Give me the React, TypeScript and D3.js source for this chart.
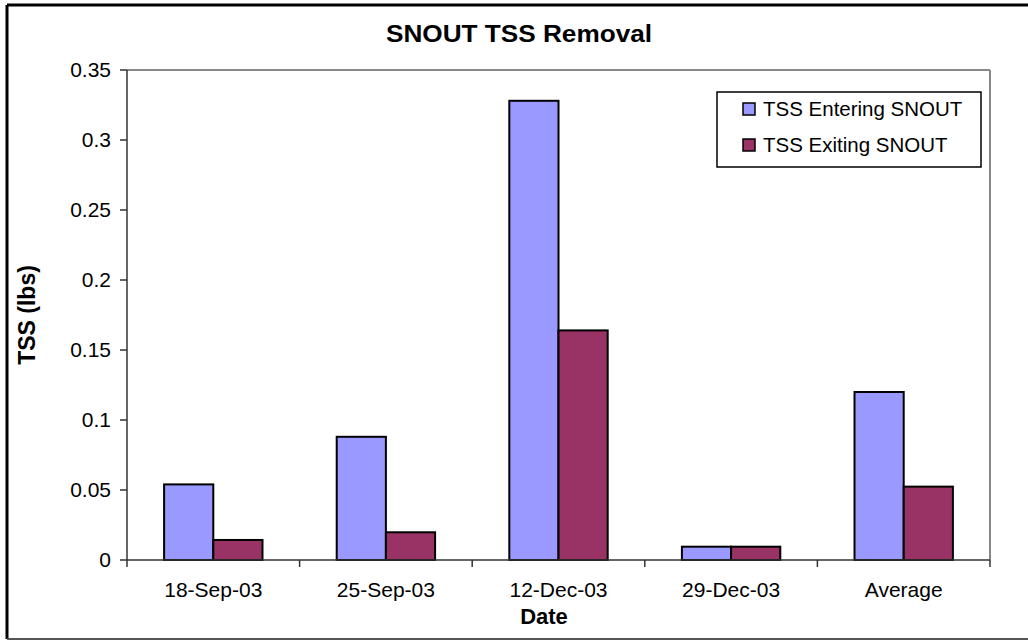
import React from "react";
import * as d3 from "d3";

const width = 1028;
const height = 640;
const margin = { top: 70, right: 38, bottom: 80, left: 127 };

const categories = ["18-Sep-03", "25-Sep-03", "12-Dec-03", "29-Dec-03", "Average"];
const entering = [0.054, 0.088, 0.328, 0.0095, 0.12];
const exiting = [0.0143, 0.0198, 0.164, 0.0095, 0.0524];
const seriesNames = ["TSS Entering SNOUT", "TSS Exiting SNOUT"];
const seriesColors = ["#9999ff", "#993366"];
const yTicks = [0, 0.05, 0.1, 0.15, 0.2, 0.25, 0.3, 0.35];

const font = "'Liberation Sans', Arial, sans-serif";

export default function App() {
  const x0 = d3
    .scaleBand()
    .domain(categories)
    .range([margin.left, width - margin.right]);
  const y = d3
    .scaleLinear()
    .domain([0, 0.35])
    .range([height - margin.bottom, margin.top]);
  // two bars per group, Excel style gap
  const barW = x0.bandwidth() * 0.285;
  const series = [entering, exiting];

  const x1 = margin.left;
  const x2 = width - margin.right;
  const y0 = y(0);

  return (
    <svg
      width={width}
      height={height}
      style={{ position: "absolute", left: 0, top: 0, background: "#fff" }}
      fontFamily={font}
    >
      {/* outer frame */}
      <line x1={7} y1={5} x2={width} y2={5} stroke="#000" strokeWidth={3} />
      <line x1={7} y1={5} x2={7} y2={639} stroke="#000" strokeWidth={3} />
      <line x1={7} y1={639} x2={width} y2={639} stroke="#555" strokeWidth={2} />

      {/* plot area border */}
      <line x1={x1} y1={y(0.35)} x2={x2} y2={y(0.35)} stroke="#888" strokeWidth={2} />
      <line x1={x2} y1={y(0.35)} x2={x2} y2={y0} stroke="#888" strokeWidth={2} />

      <text
        x={519}
        y={42}
        textAnchor="middle"
        fontSize={24}
        fontWeight="bold"
        textLength={266}
        lengthAdjust="spacingAndGlyphs"
      >
        SNOUT TSS Removal
      </text>

      {/* bars */}
      {series.map((vals, s) =>
        vals.map((v, i) => {
          const cx = (x0(categories[i]) as number) + x0.bandwidth() / 2;
          const bx = cx - barW + s * barW;
          return (
            <rect
              key={s + "-" + i}
              x={bx}
              y={y(v)}
              width={barW}
              height={y0 - y(v)}
              fill={seriesColors[s]}
              stroke="#000"
              strokeWidth={2}
            />
          );
        })
      )}

      {/* y axis */}
      <line x1={x1} y1={y(0.35)} x2={x1} y2={y0} stroke="#333" strokeWidth={1.5} />
      {yTicks.map((t) => (
        <g key={t}>
          <line x1={x1 - 7} x2={x1} y1={y(t)} y2={y(t)} stroke="#333" strokeWidth={1.5} />
          <text x={x1 - 16} y={y(t)} dy="0.35em" textAnchor="end" fontSize={21}>
            {t}
          </text>
        </g>
      ))}

      {/* x axis */}
      <line x1={x1} y1={y0} x2={x2} y2={y0} stroke="#333" strokeWidth={1.5} />
      {categories.map((c, i) => (
        <g key={c}>
          <line
            x1={x0(c) as number}
            x2={x0(c) as number}
            y1={y0}
            y2={y0 + 7}
            stroke="#333"
            strokeWidth={1.5}
          />
          <text
            x={(x0(c) as number) + x0.bandwidth() / 2}
            y={597}
            textAnchor="middle"
            fontSize={21}
          >
            {c}
          </text>
        </g>
      ))}
      <line x1={x2} x2={x2} y1={y0} y2={y0 + 7} stroke="#333" strokeWidth={1.5} />

      <text x={544} y={624} textAnchor="middle" fontSize={22} fontWeight="bold">
        Date
      </text>
      <text
        transform={`translate(35, ${(y(0.35) + y0) / 2}) rotate(-90)`}
        textAnchor="middle"
        fontSize={23}
        fontWeight="bold"
      >
        TSS (lbs)
      </text>

      {/* legend */}
      <rect x={717} y={92} width={264} height={75} fill="#fff" stroke="#000" strokeWidth={1.5} />
      {seriesNames.map((n, i) => (
        <g key={n} transform={`translate(743, ${109 + i * 36})`}>
          <rect x={0} y={-6} width={12} height={12} fill={seriesColors[i]} stroke="#000" strokeWidth={1.5} />
          <text x={20} y={0} dy="0.35em" fontSize={20.5}>
            {n}
          </text>
        </g>
      ))}
    </svg>
  );
}
